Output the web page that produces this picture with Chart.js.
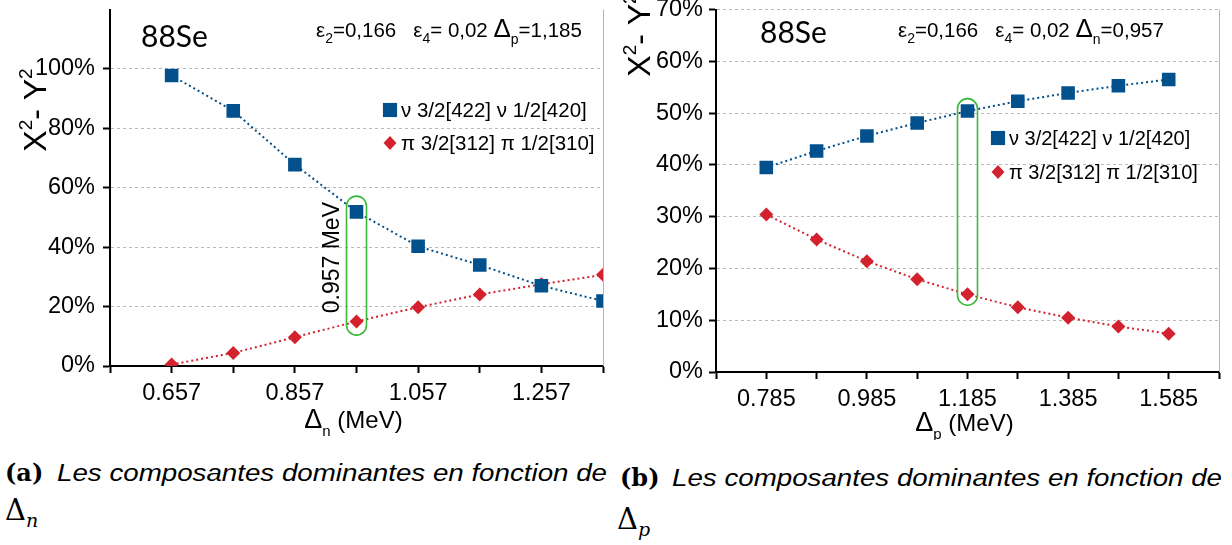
<!DOCTYPE html>
<html><head><meta charset="utf-8">
<script src="https://cdn.jsdelivr.net/npm/chart.js@4.4.1/dist/chart.umd.min.js"></script>
<style>
body{margin:0;background:#fff;width:1232px;height:545px;overflow:hidden;position:relative}
canvas{position:absolute;top:0}
#ca{left:0}
#cb{left:615px}
.cap{position:absolute;font-family:'Liberation Sans';font-style:italic;font-size:23px;line-height:23px;white-space:nowrap;transform-origin:0 0;color:#000}
.bold{position:absolute;font-family:'DejaVu Serif';font-weight:bold;font-size:24px;line-height:24px;white-space:nowrap}
.math{position:absolute;font-family:'DejaVu Serif';font-size:29px;line-height:29px;white-space:nowrap}
.math i{font-size:19px;position:relative;top:7px;font-family:'DejaVu Serif'}
</style></head><body>
<canvas id="ca" width="615" height="440"></canvas>
<canvas id="cb" width="617" height="440"></canvas>
<div class="bold" style="left:5px;top:461px">(a)</div>
<div class="cap" id="capA" data-w="550" style="left:57px;top:462px">Les composantes dominantes en fonction de</div>
<div class="math" style="left:5px;top:496px">Δ<i>n</i></div>
<div class="bold" style="left:620px;top:466px">(b)</div>
<div class="cap" id="capB" data-w="550" style="left:672px;top:467px">Les composantes dominantes en fonction de</div>
<div class="math" style="left:617px;top:505px">Δ<i>p</i></div>
<script>
// ---------- data ----------
const xA = [0.657, 0.757, 0.857, 0.957, 1.057, 1.157, 1.257, 1.357];
const nuA = [97.8, 85.9, 67.8, 51.9, 40.3, 34.0, 27.0, 21.9];
const piA = [0.5, 4.4, 9.7, 15.0, 19.8, 24.1, 27.5, 30.7];
const xLabelsA = ['0.657', '0.857', '1.057', '1.257'];

const xB = [0.785, 0.885, 0.985, 1.085, 1.185, 1.285, 1.385, 1.485, 1.585];
const nuB = [39.5, 42.7, 45.6, 48.1, 50.4, 52.3, 53.9, 55.3, 56.5];
const piB = [30.4, 25.6, 21.4, 17.9, 15.0, 12.5, 10.5, 8.8, 7.4];
const xLabelsB = ['0.785', '0.985', '1.185', '1.385', '1.585'];

const seriesNames = ['ν 3/2[422] ν 1/2[420]', 'π 3/2[312] π 1/2[310]'];
const highlightA = {x: 0.957, yTop: 57.2, yBottom: 10.4, label: '0.957 MeV'};
const highlightB = {x: 1.185, yTop: 52.8, yBottom: 12.9, label: ''};
const nucleus = '88Se';

// ---------- styles ----------
const BLUE = '#02508c', RED = '#d3212d', GREEN = '#3cb93c';
const FONT = "'Liberation Sans'";

function rich(ctx, parts, x, y, align) {
  let w = 0;
  parts.forEach(p => { ctx.font = p[1] + 'px ' + (p[3] || FONT); p.w = ctx.measureText(p[0]).width; w += p.w; });
  let cx = align === 'center' ? x - w / 2 : x;
  parts.forEach(p => { ctx.font = p[1] + 'px ' + (p[3] || FONT); ctx.fillText(p[0], cx, y + p[2]); cx += p.w; });
}

function marker(ctx, style, x, y, r) {
  ctx.beginPath();
  if (style === 'rect') { const s = Math.SQRT1_2 * r; ctx.rect(x - s, y - s, 2 * s, 2 * s); }
  else { ctx.moveTo(x, y - r); ctx.lineTo(x + r * 0.92, y); ctx.lineTo(x, y + r); ctx.lineTo(x - r * 0.92, y); ctx.closePath(); }
  ctx.fill();
}

function makeChart(id, xs, nu, pi, xLabels, o) {
  const decor = {
    id: 'decor' + id,
    afterDraw(chart) {
      const ctx = chart.ctx, a = chart.chartArea, sx = chart.scales.x, sy = chart.scales.y;
      ctx.save();
      ctx.strokeStyle = '#b5b5b5'; ctx.lineWidth = 1;
      ctx.beginPath(); ctx.moveTo(a.right + 0.5, a.top); ctx.lineTo(a.right + 0.5, a.bottom); ctx.stroke();
      ctx.fillStyle = '#000'; ctx.textBaseline = 'alphabetic'; ctx.textAlign = 'left';
      ctx.font = "30px Lato"; ctx.fillText(nucleus, o.nucX, o.nucY);
      rich(ctx, o.params, o.parX, o.parY, 'left');
      chart.data.datasets.forEach((d, i) => {
        const ly = o.legY + i * o.legGap;
        ctx.fillStyle = d.pointBackgroundColor;
        marker(ctx, d.pointStyle, o.legX, ly, d.pointStyle === 'rect' ? 10 : 7);
        ctx.fillStyle = '#000'; ctx.font = o.legFont + 'px ' + FONT; ctx.textBaseline = 'middle';
        ctx.fillText(d.label, o.legX + 11, ly + 1);
      });
      ctx.textBaseline = 'alphabetic';
      rich(ctx, o.xTitle, (a.left + a.right) / 2 - 3, o.xTitleY, 'center');
      ctx.save(); ctx.translate(o.yTitleX, o.yTitleY); ctx.rotate(-Math.PI / 2);
      rich(ctx, [['X', 32, 0], ['2', 19, -14], ['- Y', 32, 0], ['2', 19, -14]], 0, 0, 'center');
      ctx.restore();
      const h = o.hl, hx = sx.getPixelForValue(h.x), t = sy.getPixelForValue(h.yTop), b = sy.getPixelForValue(h.yBottom);
      ctx.strokeStyle = GREEN; ctx.lineWidth = 1.6;
      ctx.beginPath(); ctx.roundRect(hx - 10, t, 20, b - t, 10); ctx.stroke();
      if (h.label) {
        ctx.save(); ctx.translate(hx - 18, (t + b) / 2 - 8); ctx.rotate(-Math.PI / 2);
        ctx.fillStyle = '#000'; ctx.font = '23px ' + FONT; ctx.textAlign = 'center';
        ctx.fillText(h.label, 0, 0); ctx.restore();
      }
      ctx.restore();
    }
  };
  const ds = (label, data, color, style, r) => ({
    label, data: xs.map((x, i) => ({x, y: data[i]})),
    borderColor: color, backgroundColor: color, pointBackgroundColor: color, pointBorderColor: color,
    borderWidth: 2, borderDash: [2, 3], pointStyle: style, pointRadius: r, pointHoverRadius: r,
    pointBorderWidth: 0, tension: 0, fill: false
  });
  return new Chart(document.getElementById(id), {
    type: 'line',
    data: {datasets: [ds(seriesNames[0], nu, BLUE, 'rect', 9.6), ds(seriesNames[1], pi, RED, 'rectRot', 7)]},
    options: {
      responsive: false, animation: false, events: [],
      layout: {padding: {top: o.padTop, right: o.padRight, left: 0, bottom: 0}},
      plugins: {legend: {display: false}, tooltip: {enabled: false}},
      scales: {
        x: {
          type: 'linear', min: o.xMin, max: o.xMax,
          afterFit: s => { s.height = o.xH; s.paddingLeft = 0; s.paddingRight = 0; },
          ticks: {stepSize: 0.1, autoSkip: false, maxRotation: 0, minRotation: 0, padding: 6, color: '#000',
            font: {family: 'Liberation Sans', size: 23.5},
            callback: v => { const t = (+v).toFixed(3); return xLabels.includes(t) ? t : ''; }},
          grid: {drawOnChartArea: false, tickLength: 7, tickWidth: 2, tickColor: '#000'},
          border: {color: '#000', width: 2}
        },
        y: {
          min: 0, max: o.yMax,
          afterFit: s => { s.width = o.yW; s.paddingTop = 0; s.paddingBottom = 0; },
          ticks: {stepSize: o.yStep, padding: o.yPad, color: '#000', font: {family: 'Liberation Sans', size: 23.5},
            callback: v => v <= o.yLabelMax ? v + '%' : ''},
          grid: {
            color: c => (c.tick.value === 0 || c.tick.value > o.yLabelMax) ? 'rgba(0,0,0,0)' : '#b9b9b9',
            tickColor: c => c.tick.value > o.yLabelMax ? 'rgba(0,0,0,0)' : '#000',
            lineWidth: 1, tickLength: 7, tickWidth: 2
          },
          border: {color: '#000', width: 2, dash: [3, 3]}
        }
      }
    },
    plugins: [decor]
  });
}

makeChart('ca', xA, nuA, piA, xLabelsA, {
  xMin: 0.557, xMax: 1.357, yMax: 120, yStep: 20, yLabelMax: 100,
  padTop: 7, padRight: 12, xH: 74, yW: 110, yPad: 8,
  nucX: 141, nucY: 47,
  params: [['ε', 20.5, 0], ['2', 14, 6], ['=0,166   ', 20.5, 0], ['ε', 20.5, 0], ['4', 14, 6], ['= 0,02 ', 20.5, 0], ['Δ', 26, 0], ['p', 14, 7], ['=1,185', 20.5, 0]],
  parX: 316, parY: 37,
  legX: 390, legY: 110, legGap: 33, legFont: 20.5,
  xTitle: [['Δ', 27, 0], ['n', 15, 8], [' (MeV)', 24, 0]], xTitleY: 428,
  yTitleX: 46, yTitleY: 110,
  hl: highlightA
});
makeChart('cb', xB, nuB, piB, xLabelsB, {
  xMin: 0.685, xMax: 1.685, yMax: 70, yStep: 10, yLabelMax: 70,
  padTop: 9, padRight: 13, xH: 68, yW: 101, yPad: 6,
  nucX: 145, nucY: 43,
  params: [['ε', 20.5, 0], ['2', 14, 6], ['=0,166   ', 20.5, 0], ['ε', 20.5, 0], ['4', 14, 6], ['= 0,02 ', 20.5, 0], ['Δ', 26, 0], ['n', 14, 7], ['=0,957', 20.5, 0]],
  parX: 283, parY: 37,
  legX: 383, legY: 138, legGap: 34, legFont: 20,
  xTitle: [['Δ', 27, 0], ['p', 15, 8], [' (MeV)', 24, 0]], xTitleY: 431,
  yTitleX: 35, yTitleY: 35,
  hl: highlightB
});

document.querySelectorAll('.cap').forEach(el => {
  const w = el.getBoundingClientRect().width;
  el.style.transform = 'scaleX(' + (+el.dataset.w / w) + ')';
});
</script>
</body></html>
